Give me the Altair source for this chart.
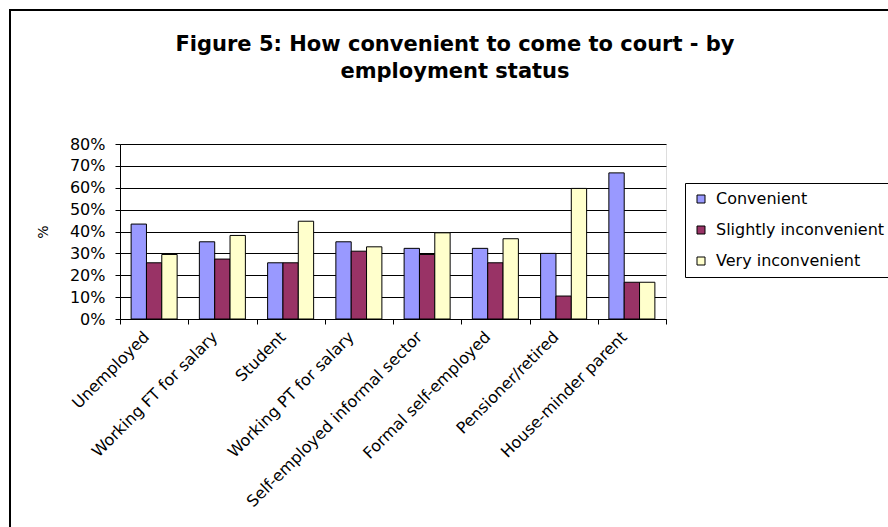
import altair as alt
import pandas as pd

categories = ["Unemployed", "Working FT for salary", "Student", "Working PT for salary",
              "Self-employed informal sector", "Formal self-employed",
              "Pensioner/retired", "House-minder parent"]
series = ["Convenient", "Slightly inconvenient", "Very inconvenient"]
convenient = [43.4, 35.3, 25.7, 35.3, 32.3, 32.3, 30.0, 66.8]
slightly_inconvenient = [25.7, 27.4, 25.7, 31.0, 29.5, 25.7, 10.5, 16.8]
very_inconvenient = [29.5, 38.2, 44.7, 33.0, 39.4, 36.7, 59.7, 16.8]
y_ticks = [0, 0.1, 0.2, 0.3, 0.4, 0.5, 0.6, 0.7, 0.8]
colors = ["#9999FF", "#993366", "#FFFFCC"]

rows = []
for s, vals in zip(series, [convenient, slightly_inconvenient, very_inconvenient]):
    for c, v in zip(categories, vals):
        rows.append({"category": c, "series": s, "value": v / 100.0})
df = pd.DataFrame(rows)

FONT = "DejaVu Sans"

bars = alt.Chart(df).mark_bar(stroke="black", strokeWidth=1).encode(
    x=alt.X("category:N", sort=categories,
            scale=alt.Scale(paddingInner=0, paddingOuter=0),
            axis=alt.Axis(title=None, labelAngle=-45, labelAlign="right",
                          labelBaseline="middle", labelFont=FONT, labelFontSize=16,
                          labelColor="black", labelLimit=0, labelPadding=10,
                          labelOffset=-8,
                          tickBand="extent", tickSize=5, tickColor="black",
                          domainColor="black", grid=False)),
    xOffset=alt.XOffset("series:N", sort=series,
                        scale=alt.Scale(paddingInner=0, paddingOuter=0.725)),
    y=alt.Y("value:Q", scale=alt.Scale(domain=[0, 0.8], nice=False),
            axis=alt.Axis(title="%", values=y_ticks, format=".0%", labelFont=FONT,
                          labelFontSize=16, labelColor="black", labelPadding=10,
                          tickSize=5, tickColor="black", domainColor="black",
                          grid=True, gridColor="black", gridWidth=1,
                          titleFont=FONT, titleFontSize=14, titleFontWeight="normal",
                          titleColor="black", titlePadding=19)),
    color=alt.Color("series:N", sort=series,
                    scale=alt.Scale(domain=series, range=colors),
                    legend=alt.Legend(title=None, orient="none", legendX=565, legendY=39,
                                      symbolType="square", symbolSize=64,
                                      symbolStrokeColor="black", symbolStrokeWidth=1,
                                      labelFont=FONT, labelFontSize=16, labelColor="black",
                                      labelLimit=0, labelOffset=7, padding=8, rowPadding=15,
                                      strokeColor="black", fillColor="white")),
)

# outer chart frame (left and top edges only; right and bottom lie outside the picture)
frame_data = alt.Data(values=[{}])
frame_top = alt.Chart(frame_data).mark_rule(color="black", strokeWidth=2).encode(
    x=alt.value(-111), x2=alt.value(768), y=alt.value(-134))
frame_left = alt.Chart(frame_data).mark_rule(color="black", strokeWidth=2).encode(
    x=alt.value(-110), y=alt.value(-135), y2=alt.value(383))

chart = alt.layer(bars, frame_top, frame_left).properties(
    width=546, height=175,
    autosize=alt.AutoSizeParams(type="none"),
    padding={"left": 120, "top": 144, "right": 222, "bottom": 208},
    title=alt.TitleParams(
        text=["Figure 5: How convenient to come to court - by", "employment status"],
        font=FONT, fontSize=21, fontWeight="bold", color="black",
        anchor="middle", dx=62, offset=-74, lineHeight=27),
).configure_view(fill="#C0C0C0", stroke="#808080", strokeWidth=1
).configure(background="white")

chart.save("out.html", embed_options={"renderer": "svg", "actions": False})
